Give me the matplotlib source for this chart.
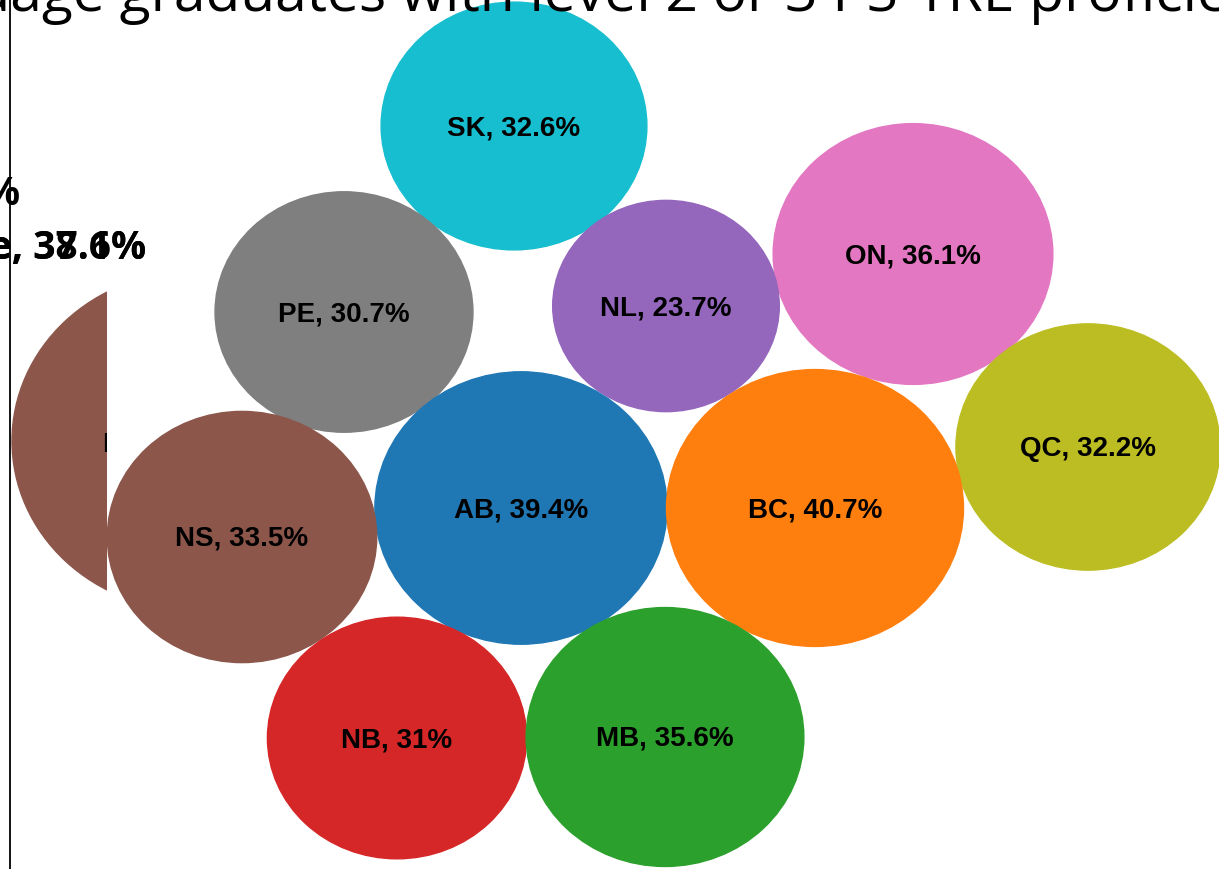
import matplotlib.pyplot as plt
from matplotlib.patches import Ellipse, Rectangle
import numpy as np

# data
provinces = ["SK", "ON", "NL", "PE", "QC", "AB", "BC", "NS", "NB", "MB"]
values = [32.6, 36.1, 23.7, 30.7, 32.2, 39.4, 40.7, 33.5, 31.0, 35.6]

# stray bubble / labels that spill over the left edge
ghost_name = "Nunavut"
ghost_value = 61
side_labels = ["Total, 36.9%", "Canada average, 38.6%", "OECD average, 37.1%"]

title_lead = "Percentage of second-language "
title_rest = "graduates with level 2 or 3 PS-TRE proficiency"

# layout (pixel space)
centre_x = [514, 913, 666, 344, 1088, 521, 815, 242, 397, 665]
centre_y = [126, 254, 306, 312, 447, 508, 508, 537, 738, 737]
colours = ["#17becf", "#e377c2", "#9467bd", "#7f7f7f", "#bcbd22",
           "#1f77b4", "#ff7f0e", "#8c564b", "#d62728", "#2ca02c"]
kx, ky = 46.55, 43.4

fig = plt.figure(figsize=(12.19, 8.69), dpi=100)
ax = fig.add_axes([0, 0, 1, 1])
ax.set_xlim(0, 1219)
ax.set_ylim(869, 0)
ax.axis("off")

# clipped ghost bubble on the left
r = np.sqrt(ghost_value)
gx, gy = 12 + kx * r / 2, 441
clip = Rectangle((0, 0), 107, 869, transform=ax.transData)
ghost = Ellipse((gx, gy), kx * r, ky * r, color="#8c564b", zorder=1)
ax.add_patch(ghost)
ghost.set_clip_path(clip)
gt = ax.text(gx, gy + 4, f"{ghost_name}, {ghost_value:g}%", ha="center",
             va="center", fontsize=20, fontweight="bold",
             family="Liberation Sans", zorder=2)
gt.set_clip_on(True)
gt.set_clip_path(clip)

for name, v, x, y, c in zip(provinces, values, centre_x, centre_y, colours):
    r = np.sqrt(v)
    ax.add_patch(Ellipse((x, y), kx * r, ky * r, color=c, zorder=3))
    ax.text(x, y + 2, f"{name}, {v:g}%", ha="center", va="center", fontsize=20,
            fontweight="bold", family="Liberation Sans", zorder=4)

# axis line
ax.plot([10, 10], [0, 869], color="black", lw=1.3, zorder=5)

# overflowing labels
ax.text(20, 195, side_labels[0], ha="right", va="center", fontsize=28,
        fontweight="bold", family="Open Sans", zorder=6)
ax.text(146, 248, side_labels[1], ha="right", va="center", fontsize=28,
        fontweight="bold", family="Open Sans", zorder=6)
ax.text(146, 248, side_labels[2], ha="right", va="center", fontsize=28,
        fontweight="bold", family="Open Sans", zorder=6)

# title, pushed partly out of frame so that "graduates" starts near x=120
renderer = fig.canvas.get_renderer()
probe = ax.text(0, 0, title_lead.replace(" ", "\u00a0"), fontsize=41,
                family="Open Sans")
lead_w = probe.get_window_extent(renderer).width
probe.remove()
ax.text(120 - lead_w, 11, title_lead + title_rest, ha="left", va="baseline",
        fontsize=41, family="Open Sans", zorder=7)

fig.savefig("out.png", dpi=100)
